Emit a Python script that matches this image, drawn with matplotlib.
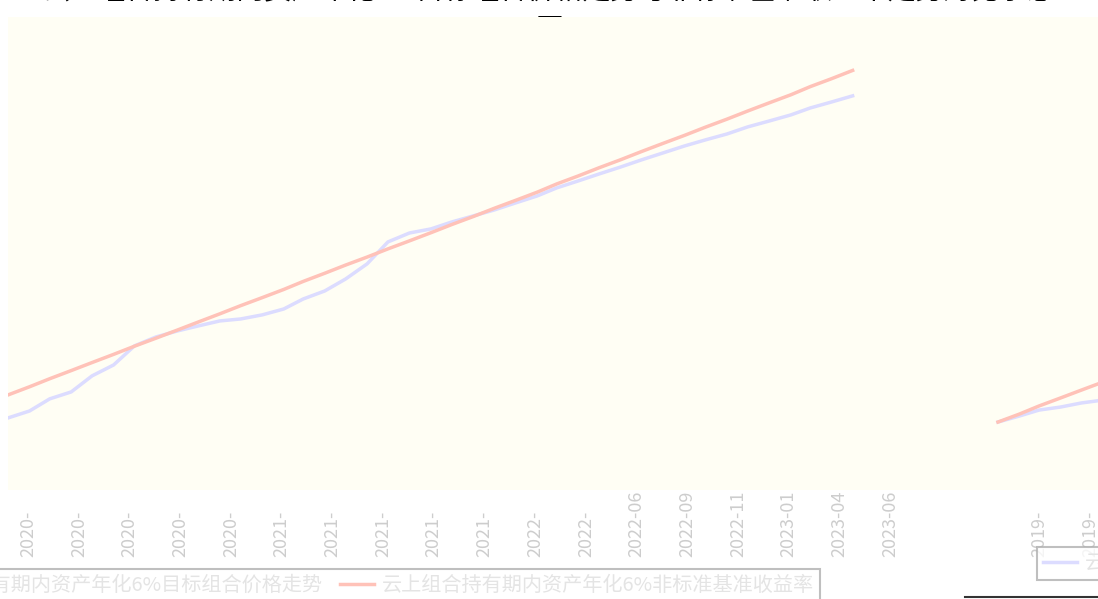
import matplotlib
matplotlib.use('Agg')
import matplotlib.pyplot as plt
import pandas as pd
from matplotlib.lines import Line2D

plt.rcParams['font.family'] = ['Noto Sans CJK SC', 'DejaVu Sans']

# ---- 数据 ----
months = pd.date_range('2020-01-01', '2023-05-01', freq='MS')
portfolio = [0.9848, 0.9894, 0.9974, 1.0020, 1.0126, 1.0198, 1.0324, 1.0383,
             1.0423, 1.0456, 1.0489, 1.0502, 1.0529, 1.0568, 1.0634, 1.0687,
             1.0766, 1.0866, 1.1011, 1.1070, 1.1097, 1.1143, 1.1183, 1.1222,
             1.1269, 1.1315, 1.1368, 1.1414, 1.1460, 1.1506, 1.1553, 1.1599,
             1.1645, 1.1685, 1.1724, 1.1771, 1.1810, 1.1850, 1.1896, 1.1936,
             1.1976]
benchmark = [1.0000, 1.0054, 1.0107, 1.0161, 1.0214, 1.0268, 1.0322, 1.0375,
             1.0429, 1.0482, 1.0536, 1.0590, 1.0643, 1.0697, 1.0750, 1.0804,
             1.0858, 1.0911, 1.0965, 1.1018, 1.1072, 1.1126, 1.1179, 1.1233,
             1.1286, 1.1340, 1.1394, 1.1447, 1.1501, 1.1554, 1.1608, 1.1662,
             1.1715, 1.1769, 1.1822, 1.1876, 1.1930, 1.1983, 1.2037, 1.2090,
             1.2144]
tick_dates = pd.date_range('2020-01-30', periods=18, freq='73D')
tick_labels = ['2020-'] * 5 + ['2021-'] * 5 + ['2022-', '2022-', '2022-06', '2022-09',
                                               '2022-11', '2023-01', '2023-04', '2023-06']

months_2019 = pd.date_range('2019-01-01', periods=6, freq='MS')
portfolio_2019 = [1.0000, 1.0040, 1.0079, 1.0099, 1.0126, 1.0145]
benchmark_2019 = [1.0000, 1.0053, 1.0106, 1.0159, 1.0211, 1.0264]
tick_dates_2019 = pd.to_datetime(['2019-03-02', '2019-05-14'])
tick_labels_2019 = ['2019-', '2019-']

label_port = '云上组合持有期内资产年化6%目标组合价格走势'
label_bench = '云上组合持有期内资产年化6%非标准基准收益率'
title = '云上组合持有期内资产年化6%目标组合价格走势与非标准基准收益率走势对比示意\n图'

# ---- 样式 ----
W, H = 1098, 599
PX_PER_DAY = 0.6946
BLUE = '#DCDCFF'
RED = '#FFC2B8'
BG = '#FFFEF4'
TICK_C = '#cdcdcd'
LEG_TXT = '#e4e4e4'


def box(x0, y0, x1, y1):
    """像素坐标 -> figure 坐标"""
    return [x0 / W, 1 - y1 / H, (x1 - x0) / W, (y1 - y0) / H]


def style_axes(ax, ticks, labels):
    ax.set_facecolor(BG)
    for s in ax.spines.values():
        s.set_visible(False)
    ax.set_yticks([])
    ax.set_xticks(ticks, labels, rotation=90, fontsize=13, color=TICK_C)
    ax.tick_params(axis='x', length=0, pad=48)
    for lab in ax.get_xticklabels():
        lab.set_verticalalignment('bottom')
        lab.set_fontweight('light')


def add_legend(loc, anchor):
    handles = [Line2D([0], [0], color=BLUE, lw=2.5), Line2D([0], [0], color=RED, lw=2.5)]
    leg = fig.legend(handles, [label_port, label_bench], loc=loc,
                     bbox_to_anchor=anchor, ncol=2, fontsize=14.5,
                     frameon=True, fancybox=False, edgecolor='#b0b0b0',
                     labelcolor=LEG_TXT, handlelength=1.7, borderpad=0.3,
                     borderaxespad=0, columnspacing=0.8, handletextpad=0.4)
    leg.get_frame().set_linewidth(1.5)
    return leg


fig = plt.figure(figsize=(W / 100, H / 100), dpi=100)

# 标题（大部分被裁掉 / 被坐标区遮挡）
fig.text(0.5, 1 + 24 / H, title, ha='center', va='top', fontsize=20,
         color='black', linespacing=1.38, zorder=-1)

# 左侧主图
ax1 = fig.add_axes(box(8, 17, 983, 490))
ax1.plot(months, portfolio, color=BLUE, lw=2.5, label=label_port)
ax1.plot(months, benchmark, color=RED, lw=2.5, label=label_bench)
ax1.set_xlim(months[0], months[0] + pd.Timedelta(days=975 / PX_PER_DAY))
ax1.set_ylim(0.9372, 1.2497)
style_axes(ax1, tick_dates, tick_labels)

# 右侧（只露出一部分）
x2_left = pd.Timestamp('2019-01-01') - pd.Timedelta(days=15 / PX_PER_DAY)
ax2 = fig.add_axes(box(983, 17, 1945, 490))
ax2.plot(months_2019, portfolio_2019, color=BLUE, lw=2.5, label=label_port)
ax2.plot(months_2019, benchmark_2019, color=RED, lw=2.5, label=label_bench)
ax2.set_xlim(x2_left, x2_left + pd.Timedelta(days=962 / PX_PER_DAY))
ax2.set_ylim(0.9551, 1.2676)
style_axes(ax2, tick_dates_2019, tick_labels_2019)

# 图例
add_legend('upper right', (820 / W, 1 - 569 / H))
add_legend('upper left', (1037 / W, 1 - 547 / H))

fig.add_artist(Line2D([965 / W, 1.0], [1 - 597 / H] * 2, color='#333333', lw=1.5))

fig.savefig('out.png', dpi=100)
